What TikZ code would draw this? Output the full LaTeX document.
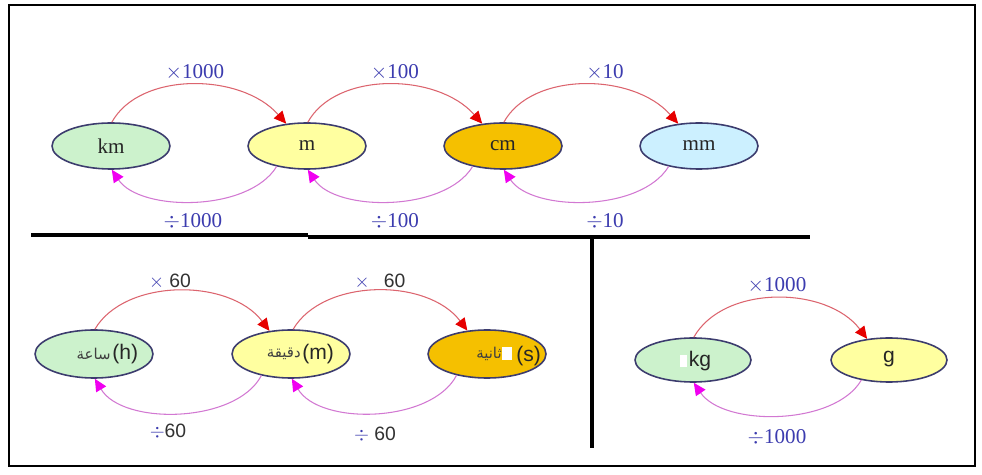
\documentclass[tikz,border=0pt]{standalone}
\usepackage{fontspec}
\setmainfont{Liberation Serif}
\newfontfamily\arialf{Liberation Sans}
\newfontfamily\arabicfont[Script=Arabic]{DejaVu Sans}
\TeXXeTstate=1
\usetikzlibrary{shapes.geometric,arrows.meta}
\definecolor{fgreen}{RGB}{204,242,204}
\definecolor{fyellow}{RGB}{255,255,160}
\definecolor{forange}{RGB}{245,192,0}
\definecolor{fcyan}{RGB}{204,240,255}
\definecolor{ebord}{RGB}{60,60,110}
\definecolor{redline}{RGB}{220,100,110}
\definecolor{redtip}{RGB}{230,0,0}
\definecolor{pinkline}{RGB}{210,120,210}
\definecolor{pinktip}{RGB}{240,0,240}
\definecolor{lblblue}{RGB}{60,60,175}
\definecolor{lblgray}{RGB}{50,50,50}
\tikzset{
  unitA/.style={ellipse,draw=ebord,line width=0.9pt,inner sep=0pt,minimum width=2.36cm,minimum height=0.92cm,font=\fontsize{12}{14}\selectfont,text=black!85},
  unitB/.style={ellipse,draw=ebord,line width=0.9pt,inner sep=0pt,minimum width=2.36cm,minimum height=0.96cm},
  unitC/.style={ellipse,draw=ebord,line width=0.9pt,inner sep=0pt,minimum width=2.32cm,minimum height=0.88cm},
  mularc/.style={draw=redline,line width=0.6pt,-{Triangle[length=7pt,width=6.5pt,color=redtip]}},
  divarc/.style={draw=pinkline,line width=0.6pt,-{Triangle[length=7pt,width=6.5pt,color=pinktip]}},
  lblA/.style={font=\fontsize{12}{14}\selectfont,text=lblblue,inner sep=0pt},
  lblB/.style={font=\arialf\fontsize{11}{13}\selectfont,text=lblgray,inner sep=0pt},
  txtB/.style={font=\arialf\fontsize{12}{14}\selectfont,text=black!85,inner sep=0pt},
  arab/.style={font=\arabicfont\fontsize{8.5}{10}\selectfont,text=black!75,inner sep=0pt},
  sep/.style={line width=2.5pt,black},
  frame/.style={line width=1.2pt,black}
}
\begin{document}
\begin{tikzpicture}[x=0.02cm,y=-0.02cm]
\useasboundingbox (0,0) rectangle (982,475);
\fill[white] (0,0) rectangle (982,475);
\draw[frame] (9,5) rectangle (975,466);
% separators
\draw[sep] (31,235) -- (308,235);
\draw[sep] (308,237) -- (810,237);
\draw[line width=1.8pt] (592,238) -- (592,448);

% ---- length row ----
\node[unitA,fill=fgreen]  (km) at (111,146) {km};
\node[unitA,fill=fyellow] (m)  at (307,146) {m};
\node[unitA,fill=forange] (cm) at (503,146) {cm};
\node[unitA,fill=fcyan]   (mm) at (699,146) {mm};

\draw[mularc] (km.88) .. controls +(28,-51) and +(-45,-51) .. (m.133);
\draw[mularc] (m.88)  .. controls +(28,-51) and +(-45,-51) .. (cm.133);
\draw[mularc] (cm.88) .. controls +(28,-51) and +(-45,-51) .. (mm.133);
\draw[divarc] (m.-146)  .. controls +(-28,46) and +(28,42) .. (km.-88);
\draw[divarc] (cm.-146) .. controls +(-28,46) and +(28,42) .. (m.-88);
\draw[divarc] (mm.-146) .. controls +(-28,46) and +(28,42) .. (cm.-88);

\node[lblA] (l1) at (195,72) {$\times$1000};
\node[lblA] (l2) at (395,72) {$\times$100};
\node[lblA] (l3) at (605,72) {$\times$10};
\node[lblA] (l4) at (193,221) {$\div$1000};
\node[lblA] (l5) at (395,221) {$\div$100};
\node[lblA] (l6) at (605,221) {$\div$10};

% ---- time row ----
\node[unitB,fill=fgreen]  (hr)  at (94,354) {};
\node[unitB,fill=fyellow] (mn)  at (291,354) {};
\node[unitB,fill=forange] (sc)  at (487,354) {};

\node[txtB,anchor=west] (th) at (112,354) {(h)};
\node[arab,anchor=east] (ah) at (111,354) {\beginR ساعة\endR};
\node[txtB,anchor=west] (tm) at (302,354) {(m)};
\node[arab,anchor=east] (am) at (301,354) {\beginR دقيقة\endR};
\fill[white] (502,347) rectangle (512,360);
\node[txtB,anchor=west] (ts) at (516,356) {(s)};
\node[arab,anchor=east] (as) at (502,354) {\beginR ثانية\endR};

\draw[mularc] (hr.88) .. controls +(30,-51) and +(-40,-53) .. (mn.133);
\draw[mularc] (mn.85) .. controls +(30,-51) and +(-40,-53) .. (sc.130);
\draw[divarc] (mn.-144) .. controls +(-25,48) and +(28,47) .. (hr.-88);
\draw[divarc] (sc.-145) .. controls +(-25,48) and +(28,47) .. (mn.-88);

\node[lblB] (t1) at (170,282) {\textcolor{lblblue}{$\times$} 60};
\node[lblB] (t2) at (380,282) {\textcolor{lblblue}{$\times$}\hspace{8pt}60};
\node[lblB] (t3) at (168,432) {\textcolor{lblblue}{$\div$}60};
\node[lblB] (t4) at (375,435) {\textcolor{lblblue}{$\div$} 60};

% ---- mass ----
\node[unitC,fill=fgreen]  (kg) at (693,360) {};
\node[unitC,fill=fyellow] (g)  at (889,360) {};
\node[txtB] (tkg) at (700,361) {kg};
\fill[white] (680,355) rectangle (687,367);
\node[txtB] (tg) at (889,359) {g};

\draw[mularc] (kg.88) .. controls +(30,-53) and +(-40,-53) .. (g.136);
\draw[divarc] (g.-144) .. controls +(-27,46) and +(30,44) .. (kg.-88);

\node[lblA] (k1) at (777,285) {$\times$1000};
\node[lblA] (k2) at (777,437) {$\div$1000};
\end{tikzpicture}
\end{document}
